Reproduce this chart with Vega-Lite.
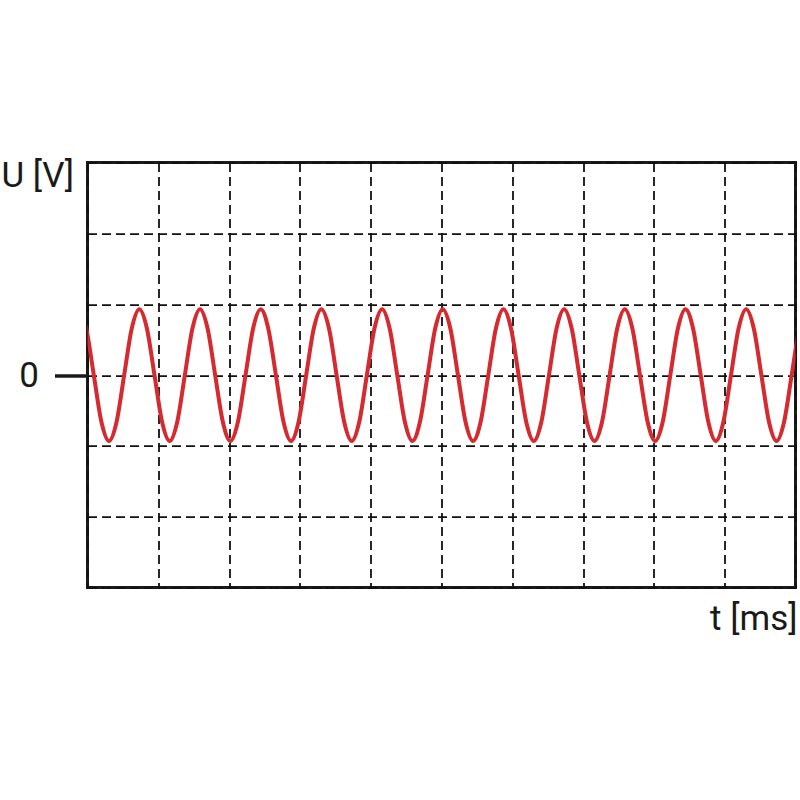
{
  "$schema": "https://vega.github.io/schema/vega-lite/v6.json",
  "autosize": "none",
  "width": 708,
  "height": 425,
  "padding": {"left": 87.5, "top": 162.6, "right": 4.5, "bottom": 212.4},
  "background": "white",
  "config": {
    "view": {"stroke": "#1a1a1a", "strokeWidth": 3},
    "font": "Roboto"
  },
  "data": {
    "values": [
      {"t": -0.125, "u": 0.93}, {"t": -0.018, "u": 0.658}, {"t": 0.089, "u": 0}, {"t": 0.196, "u": -0.658}, {"t": 0.304, "u": -0.93}, {"t": 0.411, "u": -0.658}, {"t": 0.518, "u": 0}, {"t": 0.625, "u": 0.658},
      {"t": 0.732, "u": 0.93}, {"t": 0.839, "u": 0.658}, {"t": 0.946, "u": 0}, {"t": 1.053, "u": -0.658}, {"t": 1.161, "u": -0.93}, {"t": 1.268, "u": -0.658}, {"t": 1.375, "u": 0}, {"t": 1.482, "u": 0.658},
      {"t": 1.589, "u": 0.93}, {"t": 1.696, "u": 0.658}, {"t": 1.803, "u": 0}, {"t": 1.911, "u": -0.658}, {"t": 2.018, "u": -0.93}, {"t": 2.125, "u": -0.658}, {"t": 2.232, "u": 0}, {"t": 2.339, "u": 0.658},
      {"t": 2.446, "u": 0.93}, {"t": 2.553, "u": 0.658}, {"t": 2.661, "u": 0}, {"t": 2.768, "u": -0.658}, {"t": 2.875, "u": -0.93}, {"t": 2.982, "u": -0.658}, {"t": 3.089, "u": 0}, {"t": 3.196, "u": 0.658},
      {"t": 3.303, "u": 0.93}, {"t": 3.411, "u": 0.658}, {"t": 3.518, "u": 0}, {"t": 3.625, "u": -0.658}, {"t": 3.732, "u": -0.93}, {"t": 3.839, "u": -0.658}, {"t": 3.946, "u": 0}, {"t": 4.053, "u": 0.658},
      {"t": 4.161, "u": 0.93}, {"t": 4.268, "u": 0.658}, {"t": 4.375, "u": 0}, {"t": 4.482, "u": -0.658}, {"t": 4.589, "u": -0.93}, {"t": 4.696, "u": -0.658}, {"t": 4.804, "u": 0}, {"t": 4.911, "u": 0.658},
      {"t": 5.018, "u": 0.93}, {"t": 5.125, "u": 0.658}, {"t": 5.232, "u": 0}, {"t": 5.339, "u": -0.658}, {"t": 5.446, "u": -0.93}, {"t": 5.553, "u": -0.658}, {"t": 5.661, "u": 0}, {"t": 5.768, "u": 0.658},
      {"t": 5.875, "u": 0.93}, {"t": 5.982, "u": 0.658}, {"t": 6.089, "u": 0}, {"t": 6.196, "u": -0.658}, {"t": 6.304, "u": -0.93}, {"t": 6.411, "u": -0.658}, {"t": 6.518, "u": 0}, {"t": 6.625, "u": 0.658},
      {"t": 6.732, "u": 0.93}, {"t": 6.839, "u": 0.658}, {"t": 6.946, "u": 0}, {"t": 7.053, "u": -0.658}, {"t": 7.161, "u": -0.93}, {"t": 7.268, "u": -0.658}, {"t": 7.375, "u": 0}, {"t": 7.482, "u": 0.658},
      {"t": 7.589, "u": 0.93}, {"t": 7.696, "u": 0.658}, {"t": 7.803, "u": 0}, {"t": 7.911, "u": -0.658}, {"t": 8.018, "u": -0.93}, {"t": 8.125, "u": -0.658}, {"t": 8.232, "u": 0}, {"t": 8.339, "u": 0.658},
      {"t": 8.446, "u": 0.93}, {"t": 8.553, "u": 0.658}, {"t": 8.661, "u": 0}, {"t": 8.768, "u": -0.658}, {"t": 8.875, "u": -0.93}, {"t": 8.982, "u": -0.658}, {"t": 9.089, "u": 0}, {"t": 9.196, "u": 0.658},
      {"t": 9.303, "u": 0.93}, {"t": 9.411, "u": 0.658}, {"t": 9.518, "u": 0}, {"t": 9.625, "u": -0.658}, {"t": 9.732, "u": -0.93}, {"t": 9.839, "u": -0.658}, {"t": 9.946, "u": 0}, {"t": 10.053, "u": 0.658},
      {"t": 10.161, "u": 0.93}
    ]
  },
  "mark": {"type": "line", "interpolate": "monotone", "clip": true, "color": "#d42a30", "strokeWidth": 4},
  "encoding": {
    "x": {
      "field": "t", "type": "quantitative",
      "scale": {"domain": [0, 10], "nice": false, "zero": false},
      "axis": {
        "values": [0, 1, 2, 3, 4, 5, 6, 7, 8, 9, 10],
        "grid": true, "gridColor": "#111111", "gridDash": [9, 5], "gridWidth": 1.8, "gridOpacity": 1,
        "ticks": false, "labels": false, "domain": false,
        "title": "t [ms]", "titleFont": "Roboto", "titleFontSize": 35, "titleFontWeight": "normal", "titleColor": "#1a1a1a",
        "titleAnchor": "end", "titleAlign": "right", "titleBaseline": "alphabetic",
        "titleX": 709.5, "titleY": 41.6
      }
    },
    "y": {
      "field": "u", "type": "quantitative",
      "scale": {"domain": [-3, 3], "nice": false},
      "axis": {
        "values": [-3, -2, -1, 0, 1, 2, 3],
        "grid": true, "gridColor": "#111111", "gridDash": [9, 5], "gridWidth": 1.8, "gridOpacity": 1,
        "domain": false,
        "ticks": true, "tickSize": 33, "tickWidth": 3.5, "tickColor": "#1a1a1a",
        "tickOpacity": {"condition": {"test": "datum.value === 0", "value": 1}, "value": 0},
        "labelExpr": "datum.value === 0 ? '0' : ''",
        "labelFont": "Roboto", "labelFontSize": 35, "labelColor": "#1a1a1a", "labelPadding": 16, "labelBaseline": "middle",
        "title": "U [V]", "titleFont": "Roboto", "titleFontSize": 35, "titleFontWeight": "normal", "titleColor": "#1a1a1a",
        "titleAngle": 0, "titleAlign": "right", "titleBaseline": "alphabetic",
        "titleX": -14, "titleY": 24
      }
    }
  }
}
